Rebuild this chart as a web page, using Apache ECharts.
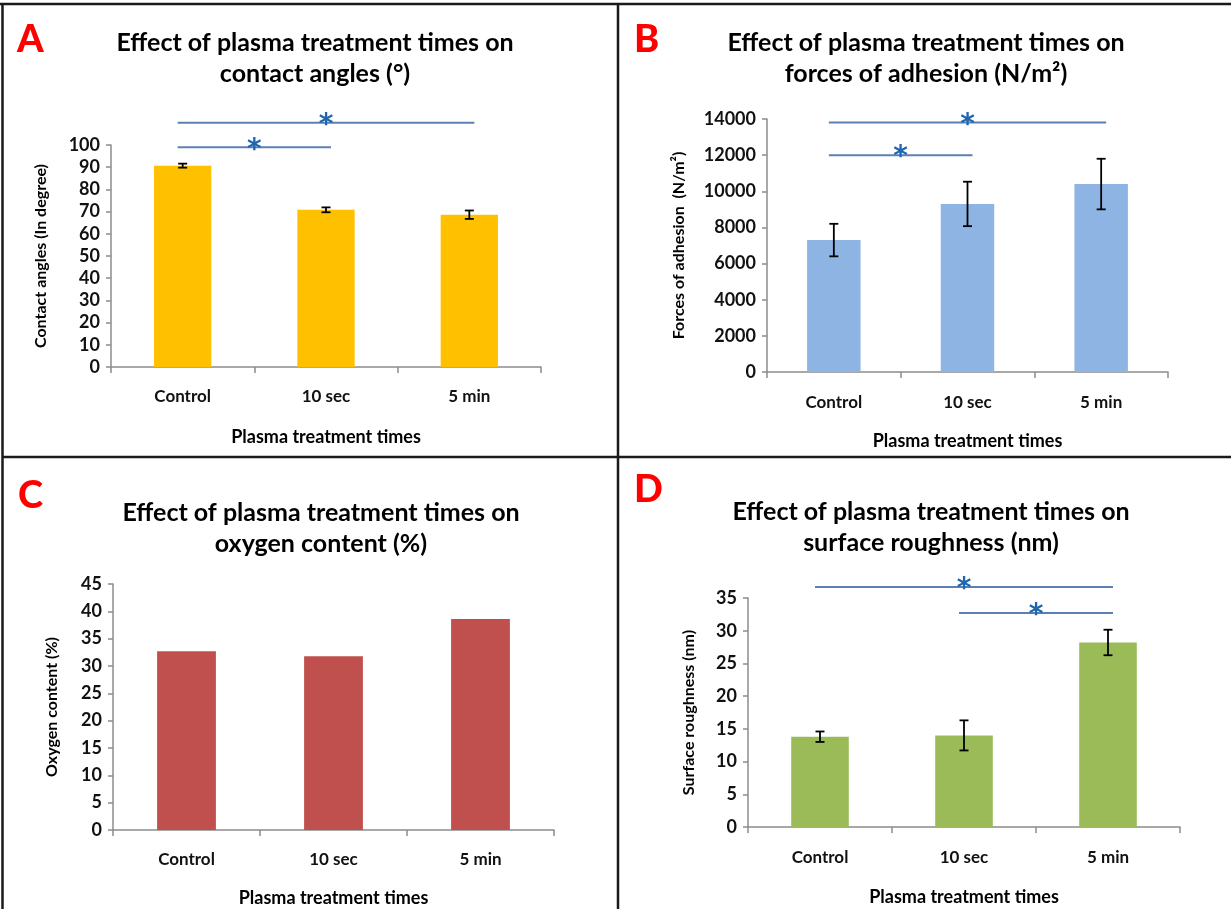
<!DOCTYPE html>
<html>
<head>
<meta charset="utf-8">
<script src="https://cdn.jsdelivr.net/npm/echarts@6/dist/echarts.min.js"></script>
<style>
html,body{margin:0;padding:0;background:#fff;}
#chart{width:1231px;height:909px;}
</style>
</head>
<body>
<div id="chart"></div>
<script>
const categories = ['Control', '10 sec', '5 min'];
const contactAngle = [90.7, 70.8, 68.6];
const contactAngleErr = [0.9, 1.1, 1.9];
const adhesion = [7300, 9300, 10400];
const adhesionErr = [900, 1230, 1400];
const oxygen = [32.7, 31.8, 38.6];
const roughness = [13.8, 14.0, 28.2];
const roughnessErr = [0.8, 2.3, 1.95];
// significance brackets: [fromIndex, toIndex, yValue]
const sigA = [[0, 1, 99], [0, 2, 110]];
const sigB = [[0, 1, 12000], [0, 2, 13800]];
const sigD = [[0, 2, 36.7], [1, 2, 32.7]];

const FONT = 'Lato';
const chart = echarts.init(document.getElementById('chart'));

function errorItem(params, api) {
  const x = api.value(0);
  const v = api.value(1), e = api.value(2);
  const hi = api.coord([x, v + e]);
  const lo = api.coord([x, v - e]);
  const w = 4.5;
  const st = {stroke: '#000', lineWidth: 1.8};
  return {type: 'group', children: [
    {type: 'line', shape: {x1: hi[0], y1: hi[1], x2: lo[0], y2: lo[1]}, style: st},
    {type: 'line', shape: {x1: hi[0] - w, y1: hi[1], x2: hi[0] + w, y2: hi[1]}, style: st},
    {type: 'line', shape: {x1: lo[0] - w, y1: lo[1], x2: lo[0] + w, y2: lo[1]}, style: st}
  ]};
}
function sigItem(params, api) {
  const a = api.coord([api.value(0), api.value(2)]);
  const b = api.coord([api.value(1), api.value(2)]);
  return {type: 'group', children: [
    {type: 'line', shape: {x1: a[0] - 5, y1: a[1], x2: b[0] + 5, y2: b[1]}, style: {stroke: '#5B80B2', lineWidth: 2}},
    {type: 'text', x: (a[0] + b[0]) / 2, y: a[1] + 3, style: {text: '*', fill: '#1F66B0', font: 'bold 28px "DejaVu Sans"', align: 'center', verticalAlign: 'middle'}}
  ]};
}

const axisLine = {show: true, lineStyle: {color: '#8C8C8C', width: 1.5}};
function xAxis(i, labelMargin, nameGap) {
  return {
    type: 'category', gridIndex: i, data: categories,
    axisLine: axisLine,
    axisTick: {show: true, length: 6, lineStyle: {color: '#8C8C8C', width: 1.5}},
    axisLabel: {margin: labelMargin, color: '#111', fontFamily: FONT, fontWeight: 'bold', fontSize: 17},
    name: 'Plasma treatment times', nameLocation: 'middle', nameGap: nameGap,
    nameTextStyle: {color: '#000', fontFamily: FONT, fontWeight: 'bold', fontSize: 18}
  };
}
function yAxis(i, max, interval, name, nameGap) {
  return {
    type: 'value', gridIndex: i, min: 0, max: max, interval: interval,
    splitLine: {show: false},
    axisLine: axisLine,
    axisTick: {show: true, length: 5, lineStyle: {color: '#8C8C8C', width: 1.5}},
    axisLabel: {margin: 11, color: '#111', fontFamily: FONT, fontWeight: 'bold', fontSize: 18,
      formatter: v => String(v)},
    name: name, nameLocation: 'middle', nameGap: nameGap,
    nameTextStyle: {color: '#000', fontFamily: FONT, fontWeight: 'bold', fontSize: 16}
  };
}
function barSeries(i, data, color) {
  return {type: 'bar', xAxisIndex: i, yAxisIndex: i, data: data, barWidth: '40%',
    itemStyle: {color: color}, silent: true};
}
function errSeries(i, vals, errs) {
  return {type: 'custom', xAxisIndex: i, yAxisIndex: i, renderItem: errorItem,
    encode: {x: 0, y: 1}, z: 5, silent: true,
    data: vals.map((v, k) => [k, v, errs[k]])};
}
function sigSeries(i, sig) {
  return {type: 'custom', xAxisIndex: i, yAxisIndex: i, renderItem: sigItem,
    encode: {x: 0, y: 2}, z: 6, silent: true, clip: false, data: sig};
}
function titleAt(x, y, text) {
  return {text: text, left: x, top: y, textAlign: 'center',
    textStyle: {fontFamily: FONT, fontWeight: 'bold', fontSize: 25, color: '#000', lineHeight: 31}};
}
function letter(x, y, t) {
  return {type: 'text', left: x, top: y, style: {text: t, fill: '#FF0000', font: '900 38px ' + FONT}};
}
function line(x1, y1, x2, y2) {
  return {type: 'line', shape: {x1, y1, x2, y2}, style: {stroke: '#1A1A1A', lineWidth: 2.5}};
}

chart.setOption({
  animation: false,
  backgroundColor: '#fff',
  title: [
    titleAt(310, 22, 'Effect of plasma treatment times on\ncontact angles (°)'),
    titleAt(921, 22, 'Effect of plasma treatment times on\nforces of adhesion (N/m²)'),
    titleAt(316, 492, 'Effect of plasma treatment times on\noxygen content (%)'),
    titleAt(926, 491, 'Effect of plasma treatment times on\nsurface roughness (nm)')
  ],
  grid: [
    {left: 111, top: 145, width: 430, height: 222, outerBoundsMode: 'none'},
    {left: 767, top: 119, width: 401, height: 253, outerBoundsMode: 'none'},
    {left: 113, top: 584, width: 441, height: 246, outerBoundsMode: 'none'},
    {left: 748, top: 598, width: 432, height: 229, outerBoundsMode: 'none'}
  ],
  xAxis: [xAxis(0, 21, 61), xAxis(1, 22, 60), xAxis(2, 21, 59), xAxis(3, 22, 61)],
  yAxis: [
    yAxis(0, 100, 10, 'Contact angles (In degree)', 62),
    yAxis(1, 14000, 2000, 'Forces of adhesion  (N/m²)', 80),
    yAxis(2, 45, 5, 'Oxygen content (%)', 53),
    yAxis(3, 35, 5, 'Surface roughness (nm)', 51)
  ],
  series: [
    barSeries(0, contactAngle, '#FFC000'),
    errSeries(0, contactAngle, contactAngleErr),
    sigSeries(0, sigA),
    barSeries(1, adhesion, '#8EB4E3'),
    errSeries(1, adhesion, adhesionErr),
    sigSeries(1, sigB),
    barSeries(2, oxygen, '#C0504D'),
    barSeries(3, roughness, '#9BBB59'),
    errSeries(3, roughness, roughnessErr),
    sigSeries(3, sigD)
  ],
  graphic: [
    line(0, 4, 1231, 4),
    line(2.5, 3, 2.5, 909),
    line(618, 3, 618, 909),
    line(2, 457, 1231, 457),
    letter(17, 21, 'A'),
    letter(634, 21, 'B'),
    letter(18, 477, 'C'),
    letter(634, 471, 'D')
  ]
});
</script>
</body>
</html>
